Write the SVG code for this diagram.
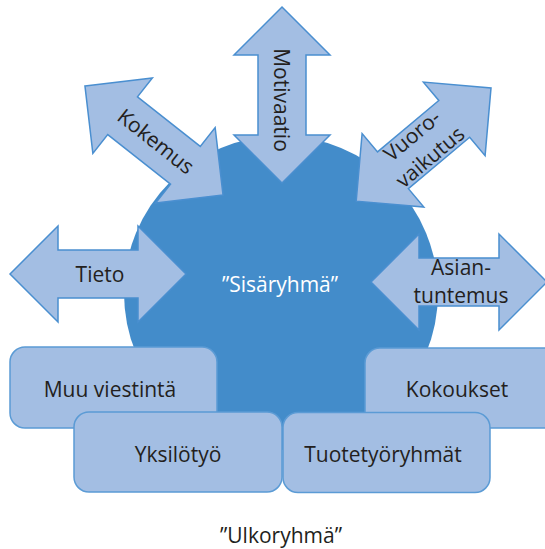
<svg xmlns="http://www.w3.org/2000/svg" width="545" height="549" viewBox="0 0 545 549">
<style>
.arrow{fill:#A3BEE3;stroke:#4A8FD0;stroke-width:1.5;stroke-linejoin:miter}
.box{fill:#A3BEE3;stroke:#5B9BD5;stroke-width:1.5}
.t{font-family:"Open Sans","Noto Sans","DejaVu Sans",sans-serif;font-size:21px;fill:#231F20;text-anchor:middle}
.w{fill:#FFFFFF}
</style>
<defs>
<polygon id="dbl" points="-88,0 -40,-48 -40,-24 40,-24 40,-48 88,0 40,48 40,24 -40,24 -40,48"/>
</defs>
<rect width="545" height="549" fill="#FFFFFF"/>
<g id="sisaryhma">
<circle cx="281" cy="293" r="157" fill="#438CCA"/>
<text class="t w" x="280" y="292">”Sisäryhmä”</text>
</g>
<g id="connectors">
<g id="motivaatio" transform="translate(282,95) rotate(90)">
<use href="#dbl" class="arrow"/>
<text class="t" x="5" y="8">Motivaatio</text>
</g>
<g id="kokemus" transform="translate(154,140.5) rotate(38.3)">
<use href="#dbl" class="arrow"/>
<text class="t" x="2" y="7">Kokemus</text>
</g>
<g id="vuorovaikutus" transform="translate(423.6,144.6) rotate(-40)">
<use href="#dbl" class="arrow"/>
<text class="t" x="-3" y="-7">Vuoro-</text>
<text class="t" x="-3" y="21">vaikutus</text>
</g>
<g id="tieto" transform="translate(98,274)">
<use href="#dbl" class="arrow"/>
<text class="t" x="2" y="8">Tieto</text>
</g>
<g id="asiantuntemus" transform="translate(459,282)">
<use href="#dbl" class="arrow"/>
<text class="t" x="2" y="-7">Asian-</text>
<text class="t" x="2" y="21">tuntemus</text>
</g>
</g>
<g id="muu">
<rect class="box" x="10" y="347" width="207" height="81" rx="15"/>
<text class="t" x="110" y="397">Muu viestintä</text>
</g>
<g id="kokoukset">
<rect class="box" x="365" y="348" width="207" height="80" rx="15"/>
<text class="t" x="457" y="397">Kokoukset</text>
</g>
<g id="yksilotyo">
<rect class="box" x="74" y="412" width="208" height="80" rx="15"/>
<text class="t" x="178" y="462">Yksilötyö</text>
</g>
<g id="tuote">
<rect class="box" x="283" y="412.5" width="207" height="80" rx="15"/>
<text class="t" x="383" y="462">Tuotetyöryhmät</text>
</g>
<g id="ulkoryhma">
<text class="t" x="281" y="543">”Ulkoryhmä”</text>
</g>
</svg>
